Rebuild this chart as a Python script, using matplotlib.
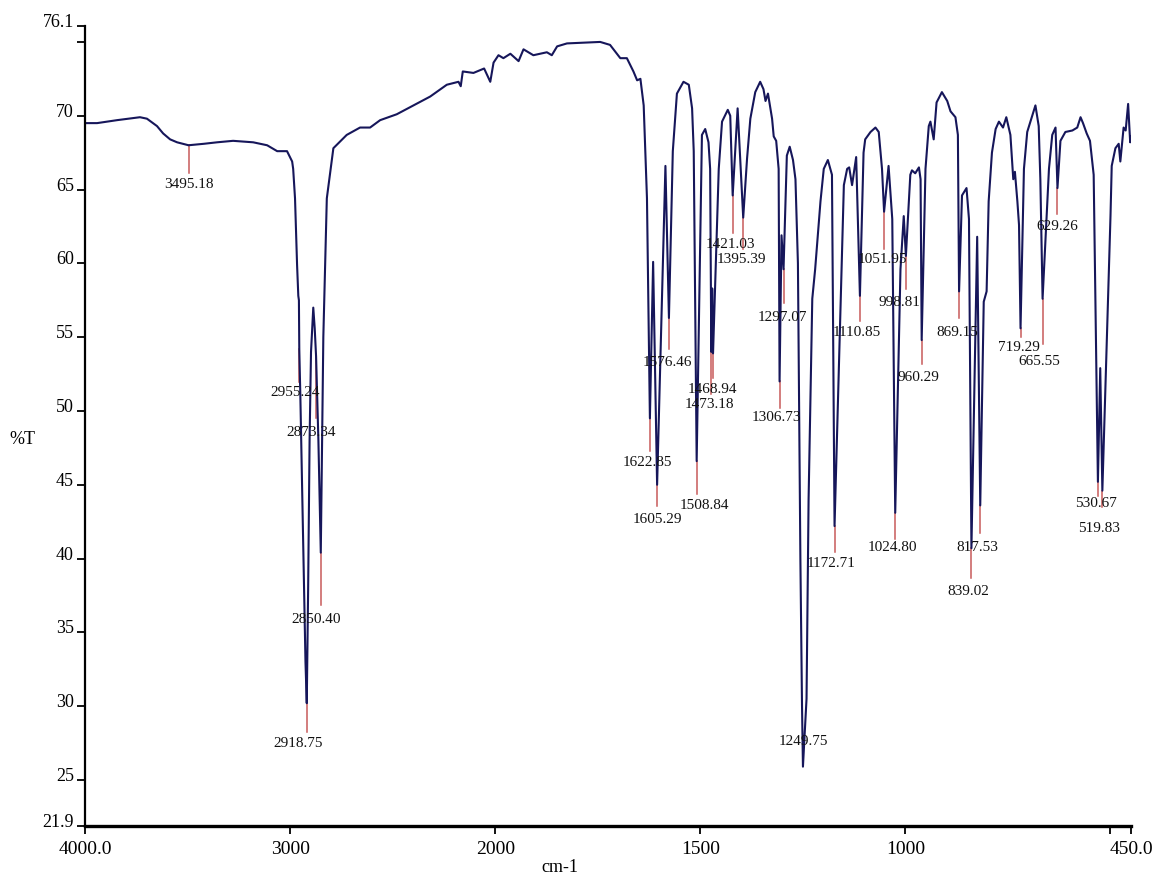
import numpy as np
import matplotlib
matplotlib.use("Agg")
import matplotlib.pyplot as plt

plt.rcParams['font.family'] = ['Liberation Serif', 'DejaVu Serif']

# IR spectrum trace (wavenumber cm-1, %T)
wavenumber = [
    4000, 3941, 3844, 3732, 3698, 3649, 3619, 3585, 3551, 3495.18, 3420, 3356,
    3278, 3180, 3112, 3063, 3015, 2990, 2985, 2976, 2966, 2960, 2957, 2955.24,
    2950, 2935, 2925, 2918.75, 2912, 2905, 2898, 2887, 2880, 2873.34, 2862,
    2850.40, 2838, 2821, 2789, 2724, 2659, 2610, 2561, 2480, 2398, 2317, 2236,
    2179, 2168, 2158, 2106, 2054, 2024, 2008, 1992, 1980, 1963, 1943, 1931,
    1907, 1874, 1862, 1849, 1825, 1744, 1720, 1695, 1679, 1663, 1654, 1646,
    1638, 1630, 1622.85, 1615, 1605.29, 1585, 1576.46, 1567, 1557, 1541, 1528,
    1520, 1516, 1508.84, 1496, 1488, 1480, 1476, 1473.18, 1471, 1468.94, 1455,
    1447, 1433, 1427, 1421.03, 1409, 1395.39, 1386, 1378, 1366, 1354, 1346,
    1341, 1335, 1325, 1321, 1315, 1309, 1306.73, 1302, 1297.07, 1289, 1282,
    1274, 1268, 1262, 1256, 1252, 1249.75, 1241, 1236, 1227, 1220, 1207, 1199,
    1189, 1179, 1172.71, 1150, 1142, 1137, 1130, 1120, 1110.85, 1102, 1098,
    1085, 1073, 1065, 1057, 1051.95, 1041, 1032, 1024.80, 1012, 1004, 998.81,
    988, 984, 976, 967, 963, 960.29, 951, 943, 939, 931, 924, 911, 898, 890,
    878, 872, 869.15, 862, 851, 845, 839.02, 825, 817.53, 809, 802, 797, 789,
    780, 772, 762, 754, 744, 737, 733, 727, 723, 719.29, 711, 703, 683, 675,
    671, 665.55, 650, 642, 634, 629.26, 622, 610, 593, 581, 573, 567, 558,
    550, 541, 530.67, 525, 519.83, 500, 497, 488, 480, 476, 468, 463, 457,
    452, 450,
]
transmittance = [
    69.5, 69.5, 69.7, 69.9, 69.8, 69.3, 68.8, 68.4, 68.2, 68.0, 68.1, 68.2,
    68.3, 68.2, 68.0, 67.6, 67.6, 66.9, 66.4, 64.4, 59.9, 57.8, 57.5, 54.2,
    51.0, 40.0, 33.0, 30.2, 38.0, 48.0, 54.0, 57.0, 55.6, 53.7, 48.0,
    40.4, 55.0, 64.4, 67.8, 68.7, 69.2, 69.2, 69.7, 70.1, 70.7, 71.3, 72.1,
    72.3, 72.0, 73.0, 72.9, 73.2, 72.3, 73.6, 74.1, 73.9, 74.2, 73.7, 74.5,
    74.1, 74.3, 74.1, 74.7, 74.9, 75.0, 74.8, 73.9, 73.9, 73.0, 72.4, 72.5,
    70.7, 64.4, 49.5, 60.1, 45.0, 66.6, 56.3, 67.6, 71.5, 72.3, 72.1,
    70.5, 67.6, 46.6, 68.7, 69.1, 68.2, 66.4, 54.0, 58.3, 53.9, 66.4,
    69.6, 70.4, 70.0, 64.6, 70.5, 63.1, 67.1, 69.8, 71.6, 72.3, 71.8,
    71.0, 71.5, 69.8, 68.6, 68.3, 66.4, 52.0, 61.9, 59.6, 67.3, 67.9,
    67.0, 65.7, 60.0, 40.0, 30.0, 25.9, 30.5, 44.0, 57.6, 59.6, 64.2, 66.4,
    67.0, 66.0, 42.2, 65.3, 66.4, 66.5, 65.3, 67.2, 57.8, 67.5, 68.4,
    68.9, 69.2, 68.9, 66.4, 63.5, 66.6, 63.0, 43.1, 59.6, 63.2, 60.5,
    66.0, 66.3, 66.1, 66.5, 65.7, 54.8, 66.4, 69.3, 69.6, 68.4, 70.9, 71.6, 71.0, 70.3,
    69.9, 68.7, 58.1, 64.6, 65.1, 63.0, 40.7, 61.8, 43.6, 57.4, 58.1, 64.2, 67.5,
    69.1, 69.6, 69.2, 69.9, 68.7, 65.7, 66.2, 64.2, 62.6, 55.6, 66.4, 68.9, 70.7, 69.3,
    65.7, 57.6, 66.4, 68.7, 69.2, 65.1, 68.3, 68.9, 69.0, 69.2, 69.9, 69.5, 68.8,
    68.3, 66.0, 45.2, 52.9, 44.6, 63.2, 66.6, 67.8, 68.1, 66.9, 69.2, 69.0, 70.8,
    68.2, 68.6,
]

# labelled peaks
peak_wn = [3495.18, 2955.24, 2918.75, 2873.34, 2850.40, 1622.85, 1605.29,
           1576.46, 1508.84, 1473.18, 1468.94, 1421.03, 1395.39, 1306.73,
           1297.07, 1249.75, 1172.71, 1110.85, 1051.95, 1024.80, 998.81,
           960.29, 869.15, 839.02, 817.53, 719.29, 665.55, 629.26, 530.67,
           519.83]
peak_labels = ["%.2f" % w for w in peak_wn]

# marker length / label offsets in pixels (layout only)
mark_len = [28, 33, 29, 62, 52, 33, 21, 31, 33, 42, 25, 38, 31, 27, 34, 0,
            26, 25, 37, 26, 33, 24, 27, 30, 28, 9, 45, 26, 14, 16]
lab_dy = [38, 43, 39, 75, 66, 43, 34, 44, 43, 52, 35, 48, 41, 35, 47, -26,
          36, 36, 47, 34, 46, 36, 40, 42, 41, 18, 62, 37, 21, 37]
lab_dx = [0, -4, -9, -5, -5, -2, 0, -2, 8, -2, -1, -2, -2, -3, -1, 0,
          -3, -3, -2, -3, -6, -3, -2, -3, -3, -2, -3, 0, -2, -3]

xticks = [4000, 3000, 2000, 1500, 1000, 500, 450]
xtick_labels = ['4000.0', '3000', '2000', '1500', '1000', '', '450.0']
yticks = [76.1, 75, 70, 65, 60, 55, 50, 45, 40, 35, 30, 25, 21.9]
ytick_labels = ['76.1', '', '70', '65', '60', '55', '50', '45', '40', '35',
                '30', '25', '21.9']


# axis is expanded 2x below 2000 cm-1 (increasing map, axis inverted by xlim)
def fwd(w):
    w = np.asarray(w, dtype=float)
    return np.where(w >= 2000, w, 2 * w - 2000)


def inv(u):
    u = np.asarray(u, dtype=float)
    return np.where(u >= 2000, u, (u + 2000) / 2)


W, H = 1156, 879
fig = plt.figure(figsize=(W / 100, H / 100), dpi=100)
left, right, top, bottom = 85, 1131, 26.7, 826.7
ax = fig.add_axes([left / W, 1 - bottom / H, (right - left) / W, (bottom - top) / H])

ax.set_xscale('function', functions=(fwd, inv))
ax.set_xlim(4000, 450)
ax.set_ylim(21.9, 76.1)

line_col = '#16165a'
ax.plot(wavenumber, transmittance, color=line_col, lw=1.5, solid_joinstyle='round')

# peak markers and labels
px_per_t = (bottom - top) / (76.1 - 21.9)
wn_rev = wavenumber[::-1]
t_rev = transmittance[::-1]
for w, lab, ml, dy, dx in zip(peak_wn, peak_labels, mark_len, lab_dy, lab_dx):
    t = np.interp(w, wn_rev, t_rev)
    if ml > 0:
        ax.plot([w, w], [t, t - ml / px_per_t], color='#c85a5a', lw=1.1, zorder=1)
    ax.annotate(lab, xy=(w, t), xytext=(dx, -dy), textcoords='offset pixels',
                ha='center', va='center', fontsize=11, color='#111111')

for s in ['top', 'right']:
    ax.spines[s].set_visible(False)
ax.spines['left'].set_linewidth(1.6)
ax.spines['bottom'].set_linewidth(2.4)

ax.set_xticks(xticks)
ax.set_xticklabels(xtick_labels)
ax.set_yticks(yticks)
ax.set_yticklabels(ytick_labels)
ax.tick_params(axis='x', direction='out', length=6, width=1.3, pad=4, labelsize=14)
ax.tick_params(axis='y', direction='out', length=6, width=1.3, pad=2, labelsize=13)
for t in ax.get_yticklabels():
    t.set_verticalalignment('baseline')
ax.minorticks_off()

fig.text(560 / W, 1 - 868 / H, 'cm-1', ha='center', va='center', fontsize=13)
fig.text(22 / W, 1 - 440 / H, '%T', ha='center', va='center', fontsize=13)

fig.savefig('out.png', dpi=100, facecolor='white')
